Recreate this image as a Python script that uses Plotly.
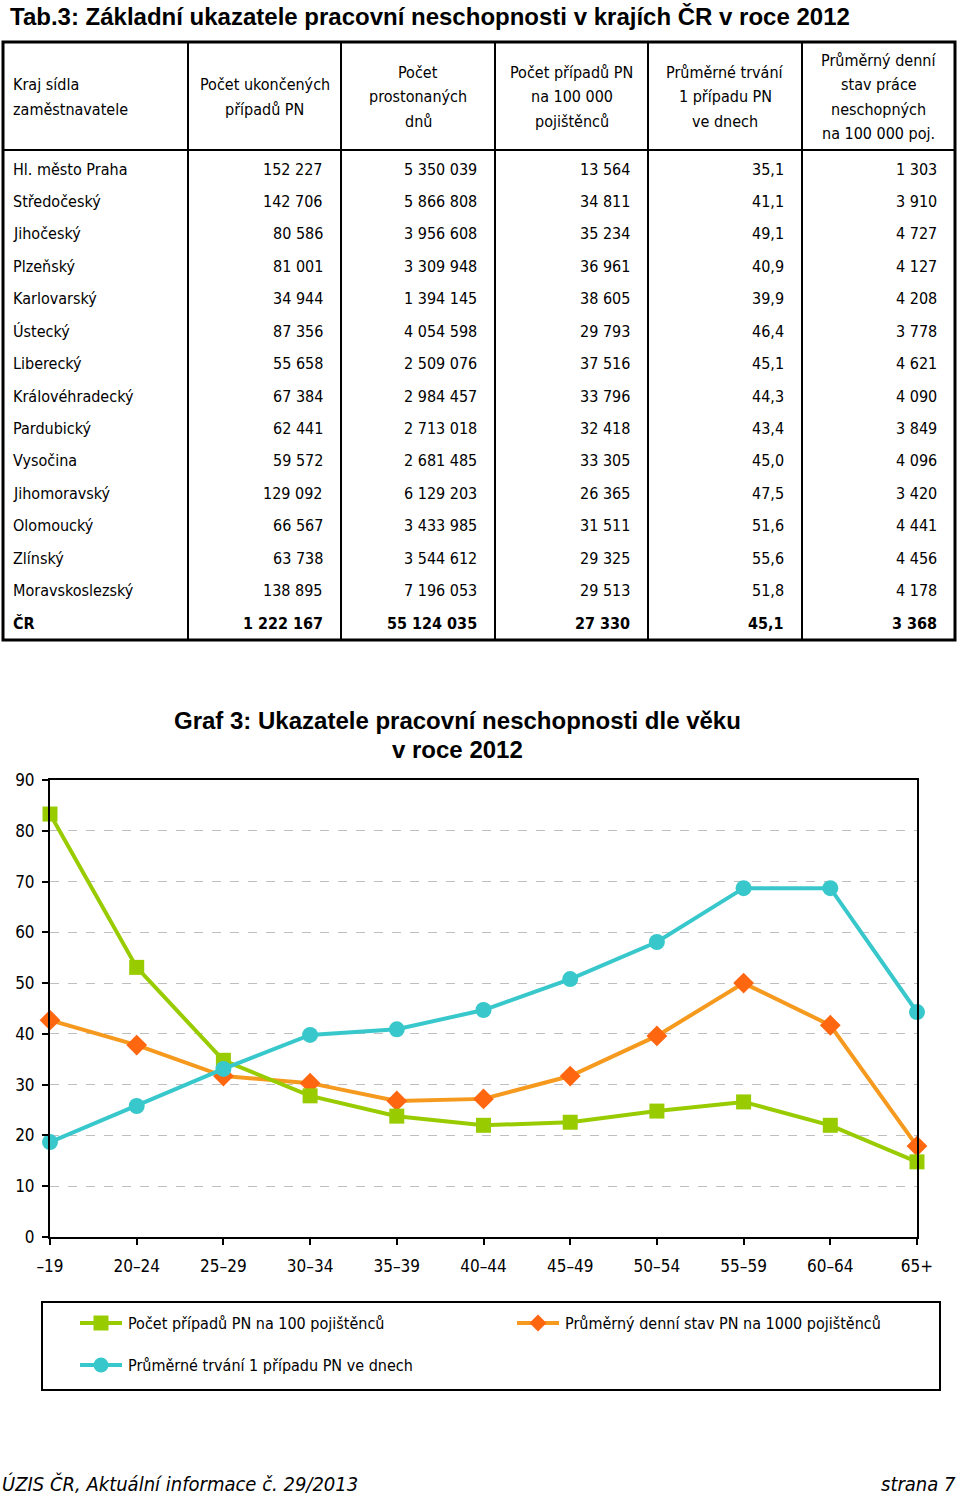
import plotly.graph_objects as go

W, H = 960, 1497


def X(px):
    return px / W


def Y(py):
    return 1 - py / H


NARROW = "DejaVu Sans Condensed, Liberation Sans Narrow, sans-serif"
BOLDF = "Liberation Sans, Arial, sans-serif"
FS = 16

# ---------------- table data ----------------
kraje = ["Hl. město Praha", "Středočeský", "Jihočeský", "Plzeňský", "Karlovarský",
         "Ústecký", "Liberecký", "Královéhradecký", "Pardubický", "Vysočina",
         "Jihomoravský", "Olomoucký", "Zlínský", "Moravskoslezský", "ČR"]
ukoncene_pripady = [152227, 142706, 80586, 81001, 34944, 87356, 55658, 67384, 62441,
                    59572, 129092, 66567, 63738, 138895, 1222167]
prostonane_dny = [5350039, 5866808, 3956608, 3309948, 1394145, 4054598, 2509076, 2984457,
                  2713018, 2681485, 6129203, 3433985, 3544612, 7196053, 55124035]
pripady_na_100k = [13564, 34811, 35234, 36961, 38605, 29793, 37516, 33796, 32418, 33305,
                   26365, 31511, 29325, 29513, 27330]
prumerne_trvani = [35.1, 41.1, 49.1, 40.9, 39.9, 46.4, 45.1, 44.3, 43.4, 45.0, 47.5,
                   51.6, 55.6, 51.8, 45.1]
denni_stav_100k = [1303, 3910, 4727, 4127, 4208, 3778, 4621, 4090, 3849, 4096, 3420,
                   4441, 4456, 4178, 3368]

hlavicky = [["Kraj sídla", "zaměstnavatele"],
            ["Počet ukončených", "případů PN"],
            ["Počet", "prostonaných", "dnů"],
            ["Počet případů PN", "na 100 000", "pojištěnců"],
            ["Průměrné trvání", "1 případu PN", "ve dnech"],
            ["Průměrný denní", "stav práce", "neschopných", "na 100 000 poj."]]

# ---------------- chart data ----------------
vek = ["–19", "20–24", "25–29", "30–34", "35–39", "40–44", "45–49", "50–54",
       "55–59", "60–64", "65+"]
pocet_pripadu_100 = [83.3, 53.1, 34.8, 27.8, 23.8, 22.0, 22.6, 24.8, 26.6, 22.0, 14.8]
denni_stav_1000 = [42.7, 37.8, 31.7, 30.3, 26.8, 27.2, 31.7, 39.6, 50.0, 41.7, 17.9]
trvani_dny = [18.7, 25.8, 33.1, 39.8, 40.9, 44.7, 50.8, 58.1, 68.7, 68.7, 44.3]

nazvy = ["Počet případů PN na 100 pojištěnců",
         "Průměrný denní stav PN na 1000 pojištěnců",
         "Průměrné trvání 1 případu PN ve dnech"]

GREEN = "#99CC00"
ORANGE_L = "#F59A1E"
ORANGE_M = "#FF6610"
CYAN = "#38C8CC"


def fmt_int(v):
    return f"{v:,}".replace(",", " ")


def fmt_dec(v):
    return f"{v:.1f}".replace(".", ",")


fig = go.Figure()

fig.add_trace(go.Scatter(x=vek, y=denni_stav_1000, mode="lines+markers", name=nazvy[1],
                         line=dict(color=ORANGE_L, width=4),
                         marker=dict(symbol="diamond", size=16, color=ORANGE_M),
                         cliponaxis=False, showlegend=False))
fig.add_trace(go.Scatter(x=vek, y=pocet_pripadu_100, mode="lines+markers", name=nazvy[0],
                         line=dict(color=GREEN, width=4),
                         marker=dict(symbol="square", size=15, color=GREEN),
                         cliponaxis=False, showlegend=False))
fig.add_trace(go.Scatter(x=vek, y=trvani_dny, mode="lines+markers", name=nazvy[2],
                         line=dict(color=CYAN, width=4),
                         marker=dict(symbol="circle", size=16, color=CYAN),
                         cliponaxis=False, showlegend=False))

annotations = []
shapes = []


def txt(text, px, py, anchor="left", size=FS, family=NARROW):
    annotations.append(dict(text=text, x=X(px), y=Y(py), xref="paper", yref="paper",
                            xanchor=anchor, yanchor="middle", showarrow=False,
                            font=dict(family=family, size=size, color="black")))


# ---------- page title ----------
txt("<b>Tab.3: Základní ukazatele pracovní neschopnosti v krajích ČR v roce 2012</b>",
    8, 16, size=24, family=BOLDF)

# ---------- table ----------
col_lines = [188, 341, 495, 648, 802]
col_left = [3] + col_lines
col_right = col_lines + [955]
tab_top, head_bot, tab_bot = 42, 150, 640
row_y0, row_h = 169, 32.43
head_lh = 24.6

shapes.append(dict(type="rect", xref="paper", yref="paper", x0=X(3), x1=X(955),
                   y0=Y(tab_top), y1=Y(tab_bot), line=dict(color="black", width=3)))
for cx in col_lines:
    shapes.append(dict(type="line", xref="paper", yref="paper", x0=X(cx), x1=X(cx),
                       y0=Y(tab_top), y1=Y(tab_bot), line=dict(color="black", width=2)))
shapes.append(dict(type="line", xref="paper", yref="paper", x0=X(3), x1=X(955),
                   y0=Y(head_bot), y1=Y(head_bot), line=dict(color="black", width=2)))

head_y = (tab_top + head_bot) / 2 + 1
for i, lines in enumerate(hlavicky):
    n = len(lines)
    for k, ln in enumerate(lines):
        ly = head_y + (k - (n - 1) / 2) * head_lh
        if i == 0:
            txt(ln, 11, ly, "left")
        else:
            txt(ln, (col_left[i] + col_right[i]) / 2, ly, "center")

columns = [
    [fmt_int(v) for v in ukoncene_pripady],
    [fmt_int(v) for v in prostonane_dny],
    [fmt_int(v) for v in pripady_na_100k],
    [fmt_dec(v) for v in prumerne_trvani],
    [fmt_int(v) for v in denni_stav_100k],
]
n_rows = len(kraje)
for r in range(n_rows):
    ry = row_y0 + r * row_h
    bold = (r == n_rows - 1)

    def wrap(t):
        return f"<b>{t}</b>" if bold else t

    txt(wrap(kraje[r]), 11, ry, "left")
    for c, col in enumerate(columns):
        txt(wrap(col[r]), col_right[c + 1] - 16, ry, "right")

# ---------- chart title ----------
txt("<b>Graf 3: Ukazatele pracovní neschopnosti dle věku</b>", 457, 720, "center",
    size=24, family=BOLDF)
txt("<b>v roce 2012</b>", 457, 750, "center", size=24, family=BOLDF)

# ---------- legend (manual) ----------
shapes.append(dict(type="rect", xref="paper", yref="paper", x0=X(42), x1=X(940),
                   y0=Y(1302), y1=Y(1390), line=dict(color="black", width=2)))
leg = [
    (80, 1323, GREEN, GREEN, "square", nazvy[0]),
    (517, 1323, ORANGE_L, ORANGE_M, "diamond", nazvy[1]),
    (80, 1365, CYAN, CYAN, "circle", nazvy[2]),
]
for lx, ly, lc, mc, sym, label in leg:
    shapes.append(dict(type="line", xref="paper", yref="paper", x0=X(lx), x1=X(lx + 42),
                       y0=Y(ly), y1=Y(ly), line=dict(color=lc, width=4)))
    cx = lx + 21
    s = 7.5
    if sym == "square":
        shapes.append(dict(type="rect", xref="paper", yref="paper", x0=X(cx - s), x1=X(cx + s),
                           y0=Y(ly - s), y1=Y(ly + s), fillcolor=mc, line=dict(width=0)))
    elif sym == "circle":
        shapes.append(dict(type="circle", xref="paper", yref="paper", x0=X(cx - s), x1=X(cx + s),
                           y0=Y(ly - s), y1=Y(ly + s), fillcolor=mc, line=dict(width=0)))
    else:
        d = 8.5
        path = (f"M {X(cx)},{Y(ly - d)} L {X(cx + d)},{Y(ly)} L {X(cx)},{Y(ly + d)} "
                f"L {X(cx - d)},{Y(ly)} Z")
        shapes.append(dict(type="path", xref="paper", yref="paper", path=path,
                           fillcolor=mc, line=dict(width=0)))
    txt(label, lx + 46, ly, "left")

# ---------- footer ----------
txt("<i>ÚZIS ČR, Aktuální informace č. 29/2013</i>", 0, 1484, "left", size=20)
txt("<i>strana 7</i>", 958, 1484, "right", size=20)

fig.update_layout(
    width=W, height=H, margin=dict(l=0, r=0, t=0, b=0, pad=0, autoexpand=False),
    paper_bgcolor="white", plot_bgcolor="white",
    showlegend=False,
    annotations=annotations, shapes=shapes,
    xaxis=dict(domain=[X(50), X(917)], type="category", range=[0, 10],
               showline=True, linecolor="black", linewidth=2, mirror=True,
               ticks="outside", ticklen=6, tickwidth=2, tickcolor="black",
               showgrid=False, zeroline=False, ticklabelstandoff=7, automargin=False,
               tickfont=dict(family=NARROW, size=FS + 1, color="black")),
    yaxis=dict(domain=[Y(1237), Y(780)], range=[0, 90], dtick=10,
               showline=True, linecolor="black", linewidth=2, mirror=True,
               ticks="outside", ticklen=6, tickwidth=2, tickcolor="black",
               showgrid=True, gridcolor="#BFBFBF", griddash="dash", gridwidth=1,
               zeroline=False, ticklabelstandoff=4, automargin=False,
               tickfont=dict(family=NARROW, size=FS + 1, color="black")),
)

fig.write_html("out.html", config={"displayModeBar": False},
               post_script="document.body.style.margin='0';document.body.style.padding='0';")
